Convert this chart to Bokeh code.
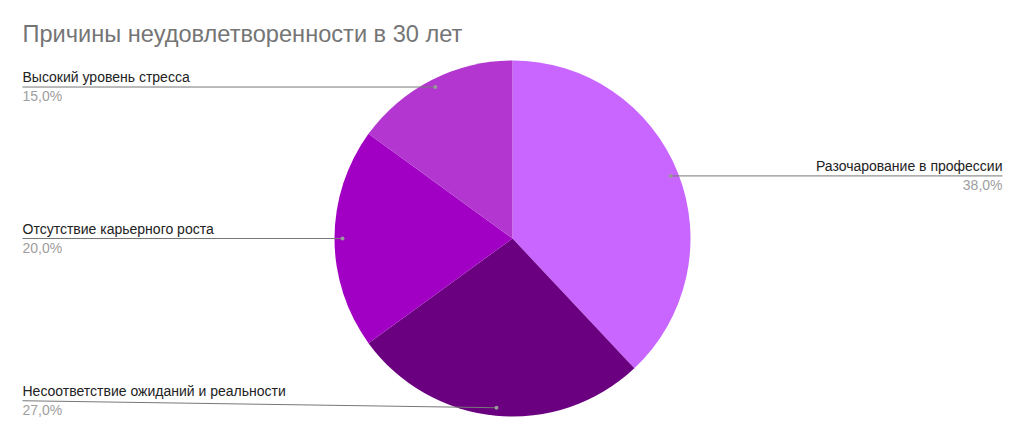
import math
from bokeh.plotting import figure
from bokeh.models import Range1d, ColumnDataSource
from bokeh.core.properties import value
from bokeh.embed import file_html
from bokeh.resources import INLINE

title = "Причины неудовлетворенности в 30 лет"
categories = ["Разочарование в профессии", "Несоответствие ожиданий и реальности",
              "Отсутствие карьерного роста", "Высокий уровень стресса"]
values = [38.0, 27.0, 20.0, 15.0]
colors = ["#c966ff", "#6a0080", "#a100c4", "#b236cf"]

W, H = 1008, 423
FONT = "Liberation Sans"

def Y(img_y):
    return H - img_y

def X(img_x):
    return img_x

p = figure(width=W, height=H, output_backend="svg", toolbar_location=None,
           x_range=Range1d(0, W), y_range=Range1d(0, H), min_border=0)
p.axis.visible = False
p.grid.visible = False
p.outline_line_color = None
p.background_fill_color = "white"
p.border_fill_color = "white"

cx, cy, R = X(512), Y(238), 178
total = sum(values)
starts, ends, mids = [], [], []
c = 0.0
for v in values:
    c0 = c / total
    c += v
    c1 = c / total
    starts.append(math.pi / 2 - 2 * math.pi * c1)
    ends.append(math.pi / 2 - 2 * math.pi * c0)
    mids.append(math.pi / 2 - 2 * math.pi * (c0 + c1) / 2)

src = ColumnDataSource(dict(start=starts, end=ends, color=colors))
p.wedge(x=cx, y=cy, radius=R, start_angle="start", end_angle="end",
        fill_color="color", line_color=None, direction="anticlock", source=src)

# leader lines and labels
rd = 170
dots_x = [cx + rd * math.cos(m) for m in mids]
dots_y = [cy + rd * math.sin(m) for m in mids]
pct = [("%.1f" % v).replace(".", ",") + "%" for v in values]

for i in range(len(values)):
    dx, dy = dots_x[i], dots_y[i]
    if math.cos(mids[i]) > 0.3:
        end_x = X(1002)
        ly = dy
        align = "right"
    else:
        end_x = X(22)
        ly = dy + (Y(400) - Y(407) if i == 1 else 0)
        align = "left"
    p.line([dx, end_x], [dy, ly], line_color="#777777", line_width=1)
    p.scatter([dx], [dy], size=4, fill_color="#999999", line_color=None)
    p.text([end_x], [ly + 10], text=[categories[i]], text_align=align,
           text_baseline="alphabetic", text_font=value(FONT),
           text_font_size="14px", text_color="#222222")
    p.text([end_x], [ly - 9], text=[pct[i]], text_align=align,
           text_baseline="alphabetic", text_font=value(FONT),
           text_font_size="14px", text_color="#9e9e9e")

p.text([X(22)], [Y(33)], text=[title], text_align="left", text_baseline="alphabetic",
       text_font=value(FONT), text_font_size="23.6px", text_color="#757575")

open("out.html", "w").write(file_html(p, INLINE))
